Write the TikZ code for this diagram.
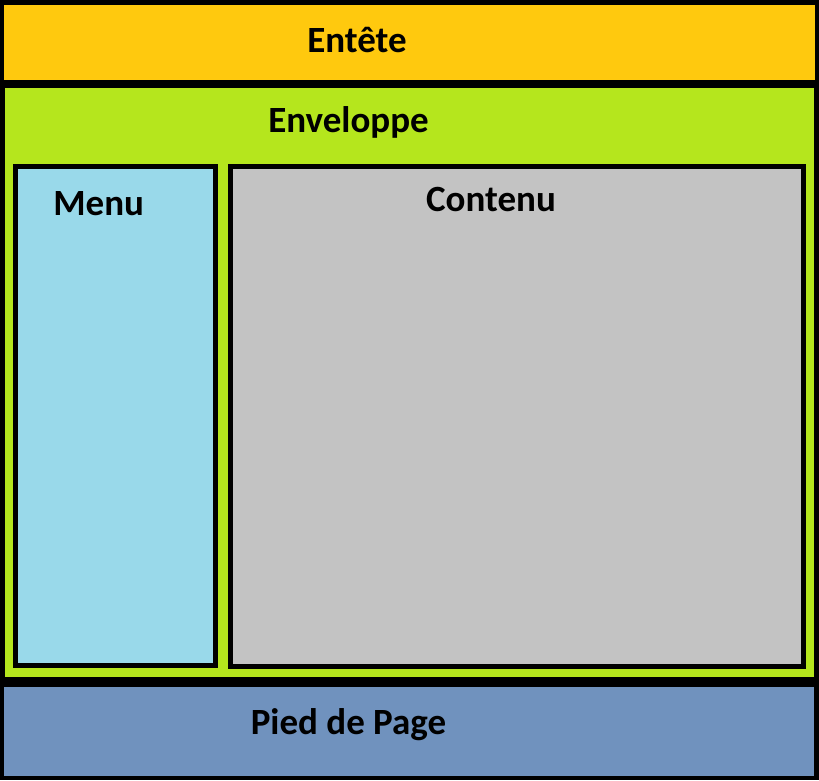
\documentclass[tikz,border=0pt]{standalone}
\usepackage{fontspec}
\setmainfont{Carlito}
\definecolor{entete}{RGB}{255,201,14}
\definecolor{enveloppe}{RGB}{181,230,29}
\definecolor{menu}{RGB}{153,217,234}
\definecolor{contenu}{RGB}{195,195,195}
\definecolor{pied}{RGB}{112,146,190}
\tikzset{titre/.style={anchor=base, inner sep=0pt, font=\fontsize{37}{42}\selectfont\bfseries}}
\begin{document}
\begin{tikzpicture}[x=1pt, y=-1pt]
\fill[black] (0,0) rectangle (819,780);
\fill[entete] (4,5) rectangle (815,80);
\fill[enveloppe] (5,88) rectangle (814,677);
\fill[black] (13,164) rectangle (218,668);
\fill[menu] (18,169) rectangle (213,663);
\fill[black] (228,164) rectangle (806,669);
\fill[contenu] (233,169) rectangle (801,664);
\fill[pied] (4,687) rectangle (814,776);
\node[titre] (entete) at (357,52) {Entête};
\node[titre] (enveloppe) at (348.5,132) {Enveloppe};
\node[titre] (menu) at (98.7,215) {Menu};
\node[titre] (contenu) at (491,211.7) {Contenu};
\node[titre] (pied) at (348.5,734) {Pied de Page};
\end{tikzpicture}
\end{document}
